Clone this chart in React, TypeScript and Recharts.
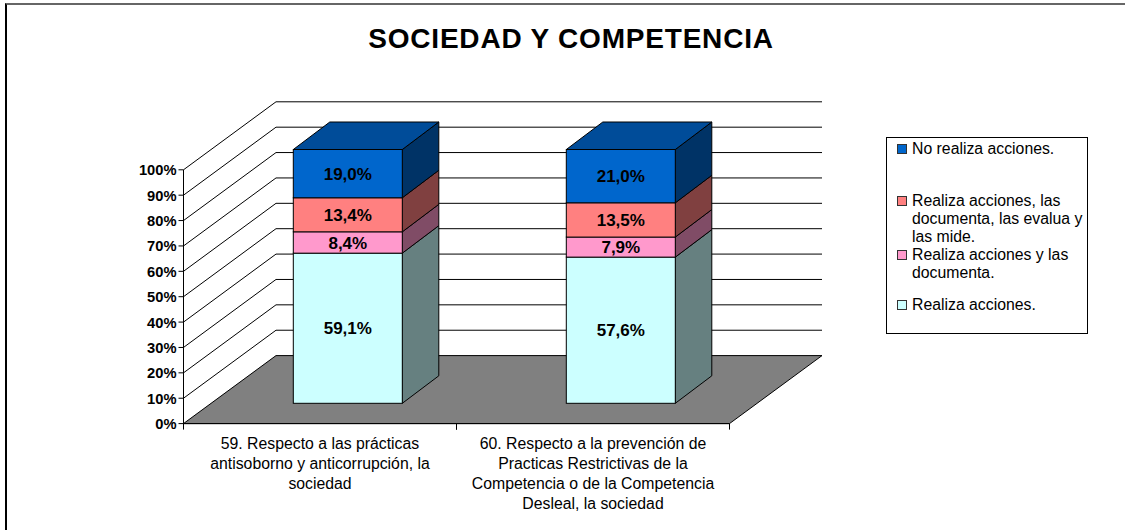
import { BarChart, Bar, XAxis, YAxis, LabelList, Legend, ReferenceLine } from 'recharts';

const categories = [
  '59. Respecto a las prácticas\nantisoborno y anticorrupción, la\nsociedad',
  '60. Respecto a la prevención de\nPracticas Restrictivas de la\nCompetencia o de la Competencia\nDesleal, la sociedad',
];
const realiza = [59.1, 57.6];
const documenta = [8.4, 7.9];
const mide = [13.4, 13.5];
const noRealiza = [19.0, 21.0];
const percentTicks = [0, 0.1, 0.2, 0.3, 0.4, 0.5, 0.6, 0.7, 0.8, 0.9, 1];

const data = categories.map((name, i) => ({
  name,
  realiza: realiza[i],
  documenta: documenta[i],
  mide: mide[i],
  noRealiza: noRealiza[i],
}));

// bars sit in a plane behind the axes, so axes are shifted forward by this much
const FRONT_DX = -27.8;
const FRONT_DY = 20.3;
const WALL_DX = 92.5;
const WALL_DY = -68;
const BAR_DX = 36.5;
const BAR_DY = -27.5;
const FLOOR_WIDTH = 546;
const BAND = 273;
const PLOT_H = 253.8;
const FONT = '"Liberation Sans", Arial, sans-serif';

const fmt = (v: number) => v.toFixed(1).replace('.', ',') + '%';

function Block({ x, y, width, height, front, top, side, lid }: any) {
  const r = x + width;
  const b = y + height;
  return (
    <g stroke="#000" strokeWidth={1}>
      <polygon fill={side} points={`${r},${y} ${r + BAR_DX},${y + BAR_DY} ${r + BAR_DX},${b + BAR_DY} ${r},${b}`} />
      {lid && (
        <polygon fill={top} points={`${x},${y} ${x + BAR_DX},${y + BAR_DY} ${r + BAR_DX},${y + BAR_DY} ${r},${y}`} />
      )}
      <rect x={x} y={y} width={width} height={height} fill={front} />
    </g>
  );
}

function WallLine({ x1, y1, floor }: any) {
  const ax = x1 + FRONT_DX;
  const ay = y1 + FRONT_DY;
  if (floor) {
    return (
      <polygon
        fill="#808080"
        stroke="#000"
        points={`${ax},${ay} ${ax + WALL_DX},${ay + WALL_DY} ${ax + WALL_DX + FLOOR_WIDTH},${ay + WALL_DY} ${ax + FLOOR_WIDTH},${ay}`}
      />
    );
  }
  return (
    <polyline
      fill="none"
      stroke="#000"
      points={`${ax},${ay} ${ax + WALL_DX},${ay + WALL_DY} ${ax + WALL_DX + FLOOR_WIDTH},${ay + WALL_DY}`}
    />
  );
}

function PercentTick({ x, y, payload, index }: any) {
  const ax = x + FRONT_DX;
  const ay = y + FRONT_DY;
  return (
    <g>
      {index === 0 && <line x1={ax} y1={ay} x2={ax} y2={ay - PLOT_H} stroke="#000" />}
      <line x1={ax - 5} y1={ay} x2={ax} y2={ay} stroke="#000" />
      <text x={ax - 7} y={ay + 5.5} textAnchor="end" fontSize={14.7} fontWeight="bold" fill="#000">
        {Math.round(payload.value * 100)}%
      </text>
    </g>
  );
}

function CategoryTick({ x, y, payload, index }: any) {
  const cx = x + FRONT_DX;
  const ay = y + FRONT_DY;
  const left = cx - BAND / 2;
  return (
    <g>
      <line x1={left} y1={ay} x2={left} y2={ay + 6} stroke="#000" />
      <line x1={left + BAND} y1={ay} x2={left + BAND} y2={ay + 6} stroke="#000" />
      {index === 0 && <line x1={left} y1={ay} x2={left + BAND * 2} y2={ay} stroke="#000" />}
      <text textAnchor="middle" fontSize={15.8} fill="#000">
        {String(payload.value)
          .split('\n')
          .map((line, i) => (
            <tspan key={i} x={cx} y={ay + 25 + i * 20}>
              {line}
            </tspan>
          ))}
      </text>
    </g>
  );
}

const legendTops = [2, 54, 108, 158];

function ChartLegend({ payload }: any) {
  const items = [...(payload || [])].reverse();
  return (
    <div
      style={{
        position: 'relative',
        width: 200,
        height: 195,
        border: '1px solid #000',
        background: '#fff',
        fontFamily: FONT,
        fontSize: 15.8,
        lineHeight: '18px',
        color: '#000',
      }}
    >
      {items.map((item: any, i: number) => (
        <div key={item.value} style={{ position: 'absolute', left: 10, top: legendTops[i], width: 190 }}>
          <span
            style={{
              position: 'absolute',
              left: 0,
              top: 4,
              width: 8,
              height: 8,
              background: item.color,
              border: '1px solid #333',
            }}
          />
          <div style={{ marginLeft: 15 }}>{item.value}</div>
        </div>
      ))}
    </div>
  );
}

const series = [
  { key: 'realiza', name: 'Realiza acciones.', front: '#CCFFFF', top: '#99BFBF', side: '#668080' },
  { key: 'documenta', name: 'Realiza acciones y las documenta.', front: '#FF99CC', top: '#BF7399', side: '#804C66' },
  { key: 'mide', name: 'Realiza acciones, las documenta, las evalua y las mide.', front: '#FF8080', top: '#BF6060', side: '#804040' },
  { key: 'noRealiza', name: 'No realiza acciones.', front: '#0066CC', top: '#004C99', side: '#003366' },
];

export default function App() {
  return (
    <div
      style={{
        position: 'fixed',
        left: 0,
        top: 0,
        width: 1125,
        height: 530,
        background: '#fff',
        overflow: 'hidden',
        fontFamily: FONT,
      }}
    >
      <div
        style={{
          position: 'absolute',
          left: 0,
          top: 23,
          width: 1142,
          textAlign: 'center',
          fontSize: 28,
          letterSpacing: 0.8,
          fontWeight: 'bold',
          color: '#000',
        }}
      >
        SOCIEDAD Y COMPETENCIA
      </div>
      {/* back layer: walls, floor and axes, so that the bars can cover them */}
      <BarChart
        width={1125}
        height={530}
        data={data}
        stackOffset="expand"
        margin={{ top: 149.5, right: 367.7, bottom: 106.7, left: 151.3 }}
        style={{ position: 'absolute', left: 0, top: 0, fontFamily: FONT }}
      >
        <XAxis
          dataKey="name"
          axisLine={false}
          tickLine={false}
          tickSize={0}
          tickMargin={0}
          tick={<CategoryTick />}
          interval={0}
          height={20}
        />
        <YAxis
          type="number"
          domain={[0, 1]}
          ticks={percentTicks}
          axisLine={false}
          tickLine={false}
          tickSize={0}
          tickMargin={0}
          tick={<PercentTick />}
          width={60}
          interval={0}
        />
        {percentTicks.map((t, i) => (
          <ReferenceLine key={t} y={t} ifOverflow="visible" shape={(p: any) => <WallLine {...p} floor={i === 0} />} />
        ))}
        {/* no visible marks here, it only gives the axes something to scale for */}
        <Bar dataKey="realiza" stackId="a" isAnimationActive={false} shape={() => null} />
      </BarChart>
      {/* front layer: the bars and the legend */}
      <BarChart
        width={1125}
        height={530}
        data={data}
        stackOffset="expand"
        barSize={109}
        margin={{ top: 149.5, right: 165.7, bottom: 126.7, left: 211.3 }}
        style={{ position: 'absolute', left: 0, top: 0, fontFamily: FONT }}
      >
        <XAxis dataKey="name" hide />
        <YAxis type="number" domain={[0, 1]} hide />
        <Legend
          layout="vertical"
          align="right"
          verticalAlign="top"
          itemSorter={null}
          content={<ChartLegend />}
          wrapperStyle={{ position: 'absolute', left: 886, top: 137, width: 202 }}
        />
        {series.map((s, i) => (
          <Bar
            key={s.key}
            dataKey={s.key}
            name={s.name}
            stackId="a"
            fill={s.front}
            isAnimationActive={false}
            shape={(p: any) => <Block {...p} front={s.front} top={s.top} side={s.side} lid={i === series.length - 1} />}
          >
            <LabelList dataKey={s.key} position="center" formatter={fmt as any} fill="#000" fontSize={17} fontWeight="bold" />
          </Bar>
        ))}
      </BarChart>
      {/* sheet edge, only left and top show in the crop */}
      <div
        style={{
          position: 'absolute',
          zIndex: 5,
          left: 5,
          top: 3,
          width: 1120,
          height: 527,
          borderLeft: '2px solid #000',
          borderTop: '2px solid #666',
          boxSizing: 'border-box',
          pointerEvents: 'none',
        }}
      />
    </div>
  );
}
